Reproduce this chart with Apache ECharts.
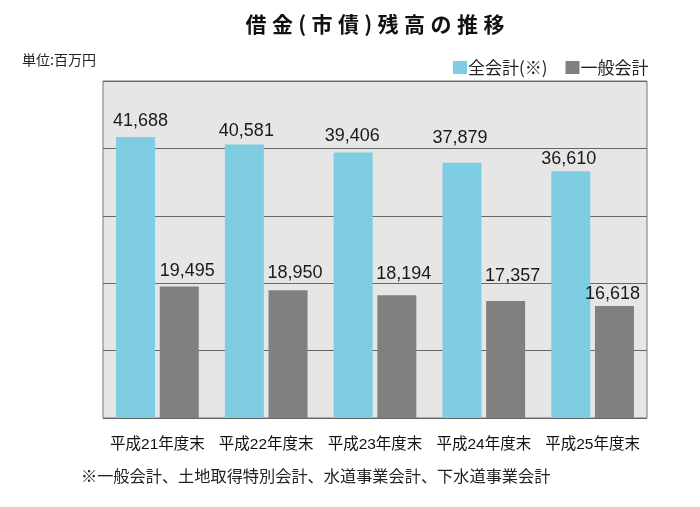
<!DOCTYPE html>
<html>
<head>
<meta charset="utf-8">
<script src="https://cdn.jsdelivr.net/npm/echarts@6/dist/echarts.min.js"></script>
<style>
html,body{margin:0;padding:0;background:#fff;}
#main{width:700px;height:507px;}
</style>
</head>
<body>
<div id="main"></div>
<script>
const categories = ['平成21年度末','平成22年度末','平成23年度末','平成24年度末','平成25年度末'];
const seriesNames = ['全会計(※)','一般会計'];
const totalValues = [41688, 40581, 39406, 37879, 36610];
const generalValues = [19495, 18950, 18194, 17357, 16618];
const titleText = '借金(市債)残高の推移';
const unitText = '単位:百万円';
const noteText = '※一般会計、土地取得特別会計、水道事業会計、下水道事業会計';

// label nudges (style tweaks only)
const totalLabelNudge = [[5,-2],[2,1],[-1,-2],[-2,-11],[-2,2]];
const generalLabelNudge = [[8,-2],[7,-3],[7,-7],[7,-11],[-2,2]];

const CJK = '"Noto Sans CJK JP","Noto Sans CJK SC",sans-serif';
const NUM = '"Liberation Sans",Arial,"Noto Sans CJK JP",sans-serif';

const chart = echarts.init(document.getElementById('main'), null, {renderer:'canvas'});

// title laid out character by character to emulate letter spacing
const titleChars = Array.from(titleText);
const slotW = c => (c === '(' || c === ')') ? 13 : 26.5;
const totalW = titleChars.reduce((s, c) => s + slotW(c), 0);
let cursor = 375 - totalW / 2;
const titleGraphics = titleChars.map(c => {
  const w = slotW(c);
  const g = {
    type: 'text',
    x: cursor + w / 2,
    y: 24,
    style: { text: c, font: 'bold 21px ' + CJK, fill: '#111', align: 'center', verticalAlign: 'middle' }
  };
  cursor += w;
  return g;
});

function mkData(vals, nudges){
  return vals.map((v, i) => ({
    value: v,
    label: { offset: nudges[i] }
  }));
}

const option = {
  backgroundColor: '#ffffff',
  animation: false,
  graphic: titleGraphics.concat([
    { type: 'text', left: 22, top: 53, style: { text: unitText, font: '14px ' + CJK, fill: '#222' } },
    { type: 'text', left: 81, top: 468, style: { text: noteText, font: '16.2px ' + CJK, fill: '#222' } }
  ]),
  legend: {
    left: 448, top: 54,
    itemWidth: 14, itemHeight: 13, itemGap: 18,
    icon: 'rect',
    textStyle: { fontFamily: CJK, fontSize: 17, color: '#222', padding: [0,0,0,-4] },
    data: seriesNames
  },
  grid: {
    left: 103, right: 53, top: 81, bottom: 89,
    show: true, backgroundColor: '#e6e6e6', borderColor: '#777', borderWidth: 1
  },
  xAxis: {
    type: 'category',
    data: categories,
    axisLine: { show: false },
    axisTick: { show: false },
    axisLabel: { interval: 0, margin: 19, fontFamily: NUM, fontSize: 15.5, color: '#111' }
  },
  yAxis: {
    type: 'value',
    min: 0, max: 50000, interval: 10000,
    axisLabel: { show: false },
    axisLine: { show: false },
    axisTick: { show: false },
    splitLine: { lineStyle: { color: '#666', width: 1 } }
  },
  series: [
    {
      name: seriesNames[0], type: 'bar', barWidth: 39, barGap: '12%',
      itemStyle: { color: '#7ecde2' },
      label: { show: true, position: 'top', distance: 5, fontFamily: NUM, fontSize: 18, color: '#1a1a1a',
        formatter: p => p.value.toLocaleString('en-US') },
      data: mkData(totalValues, totalLabelNudge)
    },
    {
      name: seriesNames[1], type: 'bar', barWidth: 39, barGap: '12%',
      itemStyle: { color: '#808080' },
      label: { show: true, position: 'top', distance: 5, fontFamily: NUM, fontSize: 18, color: '#1a1a1a',
        formatter: p => p.value.toLocaleString('en-US') },
      data: mkData(generalValues, generalLabelNudge)
    }
  ]
};
chart.setOption(option);
</script>
</body>
</html>
